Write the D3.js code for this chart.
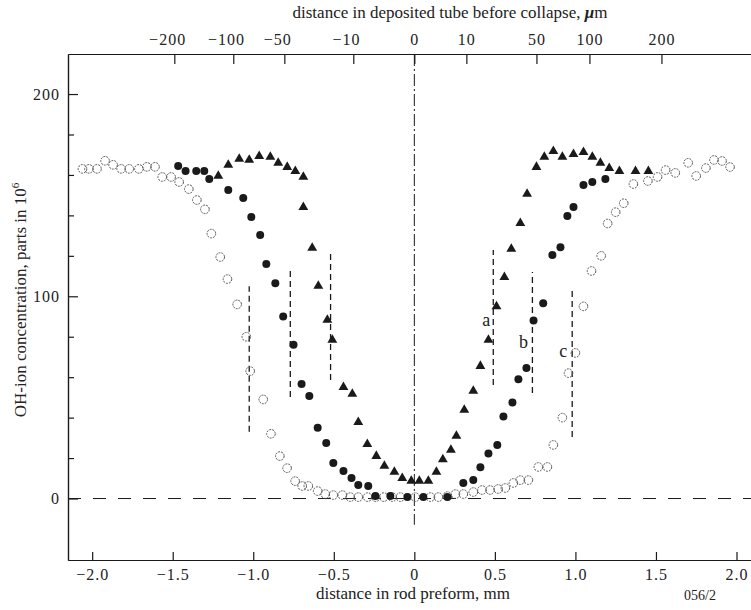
<!DOCTYPE html>
<html>
<head>
<meta charset="utf-8">
<script src="https://cdn.jsdelivr.net/npm/d3@7"></script>
<style>
  body { margin: 0; background: #fff; }
  svg, svg text, svg g { font-family: "Liberation Serif", "Times New Roman", Times, "DejaVu Serif", "Noto Serif", Tinos, FreeSerif, serif !important; }
  svg text { fill: #222; }
</style>
</head>
<body>
<div id="chart"></div>
<script>
// curve a: filled triangles (distance in mm, OH concentration)
var aDist = [-1.217, -1.155, -1.087, -1.025, -0.963, -0.894, -0.845, -0.789, -0.739, -0.689, -0.689,
  -0.634, -0.596, -0.54, -0.509, -0.44, -0.385, -0.348, -0.292, -0.236, -0.186, -0.124, -0.075,
  -0.019, 0.031, 0.087, 0.137, 0.177, 0.227, 0.261, 0.31, 0.366, 0.41, 0.46, 0.51, 0.559, 0.602,
  0.658, 0.70, 0.758, 0.807, 0.863, 0.919, 0.988, 1.05, 1.105, 1.155, 1.21, 1.273, 1.373, 1.453];
var aConc = [159.5, 164.9, 167.9, 167.4, 169.3, 168.9, 165.9, 163.9, 161.9, 159, 144.1,
  123.9, 105.1, 88.3, 78.4, 55.1, 51.7, 37.8, 26.9, 21.0, 16.1, 13.1, 10.1,
  8.7, 8.7, 8.7, 13.1, 19.3, 24, 30.9, 43.8, 53.2, 65.5, 78.4, 95, 109.5, 123.4,
  136.2, 150.6, 163.9, 168.9, 171.8, 168.9, 170.3, 171.3, 168.9, 165.9, 163.4, 161.9, 161.9, 161.9];

// curve b: filled circles
var bDist = [-1.466, -1.42, -1.354, -1.304, -1.273, -1.155, -1.062, -1.012, -0.957, -0.919, -0.863,
  -0.814, -0.75, -0.70, -0.652, -0.60, -0.547, -0.503, -0.44, -0.39, -0.348, -0.286, -0.242,
  -0.149, -0.043, 0.056, 0.205, 0.304, 0.366, 0.41, 0.46, 0.515, 0.553, 0.609, 0.646, 0.696,
  0.74, 0.80, 0.857, 0.907, 0.95, 0.988, 1.05, 1.105, 1.186];
var bConc = [164.4, 162, 162, 162, 158, 152.5, 148.6, 139.2, 130.3, 116, 106.5,
  90, 76, 56.6, 50.7, 35, 27.4, 17.6, 13.6, 10.1, 6.7, 6.2, 1.2,
  1.2, 0.7, 0.7, 0.7, 7.7, 9.1, 15.4, 22.3, 26.5, 40.5, 47.5, 59, 64.5,
  88, 96.6, 120.4, 124.3, 139.7, 144.1, 155, 156.5, 158];

// curve c: open circles
var cDist = [-2.06, -2.02, -1.97, -1.92, -1.87, -1.82, -1.77, -1.71, -1.66, -1.61, -1.565, -1.51,
  -1.46, -1.40, -1.35, -1.30, -1.26, -1.205, -1.16, -1.10, -1.043, -1.019, -0.938, -0.89, -0.835,
  -0.79, -0.74, -0.696, -0.658, -0.60, -0.553, -0.503, -0.447, -0.398, -0.348, -0.29, -0.24,
  -0.19, -0.137, -0.087, 0.006, 0.10, 0.149, 0.205, 0.255, 0.304, 0.366, 0.42, 0.47, 0.52,
  0.565, 0.615, 0.658, 0.708, 0.77, 0.826, 0.863, 0.919, 0.957, 1.0, 1.05, 1.10, 1.16, 1.20,
  1.25, 1.30, 1.36, 1.45, 1.51, 1.56, 1.62, 1.70, 1.75, 1.81, 1.86, 1.91, 1.96];
var cConc = [163, 163, 163, 167, 165, 163, 163, 163, 164, 164, 159, 159,
  156.5, 153, 147.6, 143, 131, 119.4, 108.5, 96, 80, 63, 49, 32, 21,
  15, 8.6, 6.2, 6.2, 3.7, 2.2, 1.7, 1.7, 0.7, 0.7, 0.7, 0.7,
  0.7, 0.7, 0.7, 0.7, 0.7, 0.7, 1.2, 2.2, 2.2, 3.2, 4.2, 4.2, 4.7,
  5.2, 7.7, 9.1, 9.1, 15.6, 15.6, 26.5, 40, 62, 72, 95, 112.5, 120, 136,
  141.6, 146, 155.5, 157, 159, 162.4, 161, 166, 159.5, 163.4, 167.4, 166.9, 163.9];

// dashed vertical markers (a, a, b, b, c, c)
var markDist = [-0.52, 0.49, -0.77, 0.733, -1.025, 0.98];
var markLow  = [58.6, 56.1, 50.2, 52.2, 33, 30.4];
var markHigh = [120.9, 122.9, 114.4, 112, 105, 103];

// curve letters
var curveNames = ["a", "b", "c"];
var nameDist = [0.447, 0.677, 0.925];
var nameConc = [87.3, 76.4, 72];

// axis ticks
var bottomTicks = [-2, -1.5, -1, -0.5, 0, 0.5, 1, 1.5, 2];
var leftMajor = [0, 100, 200];
var leftMinor = [20, 40, 60, 80, 120, 140, 160, 180];
var topTickLabels = ["200", "100", "50", "10", "0", "10", "50", "100", "200"];
var topTickNeg = [true, true, true, true, false, false, false, false, false];
var topTickMm = [-1.49, -1.124, -0.807, -0.379, 0, 0.323, 0.758, 1.087, 1.534];

var width = 751,
    height = 610;

var serif = "'Liberation Serif', 'Times New Roman', Times, 'DejaVu Serif', 'Noto Serif', serif";

var svg = d3.select("#chart")
  .append("svg")
    .attr("width", width)
    .attr("height", height)
    .attr("font-family", serif);

// scales
var x = d3.scaleLinear().domain([-2.15, 2.09]).range([68, 751]);
var y = d3.scaleLinear().domain([-30.4, 219.8]).range([560, 54]);

var ink = "#1a1a1a";

// bottom axis
var xAxis = svg.append("g")
  .attr("transform", "translate(0," + y.range()[0] + ")")
  .call(d3.axisBottom(x)
    .tickValues(bottomTicks)
    .tickSizeInner(-8).tickSizeOuter(0)
    .tickPadding(9)
    .tickFormat(function(d) { return d === 0 ? "0" : d3.format(".1f")(d); }));

// top axis (tube before collapse)
var xTop = svg.append("g")
  .attr("transform", "translate(0," + y.range()[1] + ")")
  .call(d3.axisTop(x)
    .tickValues(topTickMm)
    .tickSizeInner(-10).tickSizeOuter(0)
    .tickPadding(9)
    .tickFormat(function(d, i) { return (topTickNeg[i] ? "\u2212" : "") + topTickLabels[i]; }));
xTop.selectAll(".tick text").attr("dx", function(d, i) { return topTickNeg[i] ? "-0.45em" : 0; });

// left axis, minor then major ticks
svg.append("g")
  .attr("transform", "translate(" + x.range()[0] + ",0)")
  .call(d3.axisLeft(y).tickValues(leftMinor).tickSizeInner(-6).tickSizeOuter(0).tickFormat(""));
var yAxis = svg.append("g")
  .attr("transform", "translate(" + x.range()[0] + ",0)")
  .call(d3.axisLeft(y).tickValues(leftMajor).tickSizeInner(-10).tickSizeOuter(0).tickPadding(8));

svg.selectAll("g").attr("font-family", serif);
svg.selectAll(".tick text").style("font-size", "16px").attr("letter-spacing", "1px");
svg.selectAll(".domain, .tick line").attr("stroke", ink).attr("stroke-width", 1.2);

// axis titles
svg.append("text")
  .attr("x", 450).attr("y", 14)
  .attr("text-anchor", "middle").attr("dominant-baseline", "middle")
  .style("font-size", "17px")
  .html("distance in deposited tube before collapse, <tspan font-style='italic' font-weight='bold'>\u03bc</tspan>m");

svg.append("text")
  .attr("x", 413).attr("y", 595)
  .attr("text-anchor", "middle").attr("dominant-baseline", "middle")
  .style("font-size", "17px")
  .text("distance in rod preform, mm");

svg.append("text")
  .attr("transform", "translate(22,300) rotate(-90)")
  .attr("text-anchor", "middle").attr("dominant-baseline", "middle")
  .style("font-size", "17px")
  .html("OH-ion concentration, parts in 10<tspan dy='-6' font-size='11px'>6</tspan>");

svg.append("text")
  .attr("x", 700).attr("y", 597)
  .attr("text-anchor", "middle").attr("dominant-baseline", "middle")
  .style("font-size", "14px")
  .text("056/2");

// zero line (dashed) and centre line (dash-dot)
svg.append("line")
  .attr("x1", x.range()[0]).attr("x2", x.range()[1])
  .attr("y1", y(0)).attr("y2", y(0))
  .attr("stroke", ink).attr("stroke-width", 1)
  .attr("stroke-dasharray", "13,12");

svg.append("line")
  .attr("x1", x(0)).attr("x2", x(0))
  .attr("y1", y.range()[1]).attr("y2", y(-13))
  .attr("stroke", ink).attr("stroke-width", 1)
  .attr("stroke-dasharray", "12,3,2,3");

// dashed markers
svg.selectAll("markLines")
  .data(markDist)
  .enter()
  .append("line")
    .attr("x1", function(d) { return x(d); })
    .attr("x2", function(d) { return x(d); })
    .attr("y1", function(d, i) { return y(markLow[i]); })
    .attr("y2", function(d, i) { return y(markHigh[i]); })
    .attr("stroke", ink).attr("stroke-width", 1.3)
    .attr("stroke-dasharray", "6,4");

// curve c, open circles
svg.selectAll("cPts")
  .data(cDist)
  .enter()
  .append("circle")
    .attr("cx", function(d) { return x(d); })
    .attr("cy", function(d, i) { return y(cConc[i]); })
    .attr("r", 4.3)
    .attr("fill", "none")
    .attr("stroke", "#555")
    .attr("stroke-width", 1)
    .attr("stroke-dasharray", "2,1");

// curve b, filled circles
svg.selectAll("bPts")
  .data(bDist)
  .enter()
  .append("circle")
    .attr("cx", function(d) { return x(d); })
    .attr("cy", function(d, i) { return y(bConc[i]); })
    .attr("r", 4)
    .attr("fill", ink);

// curve a, triangles
var tri = d3.symbol().type(d3.symbolTriangle).size(42);
svg.selectAll("aPts")
  .data(aDist)
  .enter()
  .append("path")
    .attr("d", tri)
    .attr("transform", function(d, i) { return "translate(" + x(d) + "," + y(aConc[i]) + ")"; })
    .attr("fill", ink);

// curve letters
svg.selectAll("names")
  .data(curveNames)
  .enter()
  .append("text")
    .attr("x", function(d, i) { return x(nameDist[i]); })
    .attr("y", function(d, i) { return y(nameConc[i]); })
    .attr("text-anchor", "middle").attr("dominant-baseline", "middle")
    .style("font-size", "18px")
    .text(function(d) { return d; });
</script>
</body>
</html>
